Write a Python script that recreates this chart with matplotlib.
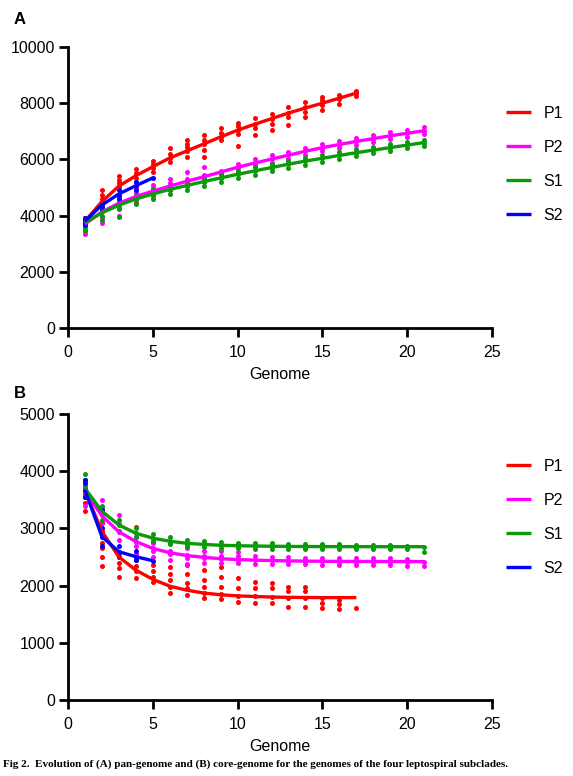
import matplotlib
matplotlib.use("Agg")
import matplotlib.pyplot as plt

# ---------------- data ----------------
series_names = ["P1", "P2", "S1", "S2"]
series_colors = ["#ff0000", "#ff00ff", "#0a9a0a", "#0000ff"]

# Pan-genome fitted curves (value at genome count 1..n)
pan_p1_fit = [3800, 4500, 5050, 5420, 5740, 6050, 6300, 6550, 6800, 7040, 7250, 7450, 7650, 7830, 8000, 8180, 8360]
pan_p2_fit = [3700, 4130, 4440, 4680, 4870, 5050, 5220, 5380, 5550, 5720, 5870, 6010, 6150, 6290, 6420, 6530, 6640, 6740, 6840, 6930, 7020]
pan_s1_fit = [3750, 4100, 4370, 4590, 4770, 4930, 5070, 5210, 5340, 5470, 5590, 5710, 5830, 5940, 6040, 6140, 6240, 6330, 6420, 6510, 6600]
pan_s2_fit = [3800, 4380, 4770, 5065, 5340]

# Pan-genome sample points (per genome count)
pan_p1_pts = [[3500, 3650, 3750, 3850, 3900], [4300, 4450, 4600, 4750, 4900], [4700, 5030, 5150, 5280, 5400],
              [5210, 5350, 5500, 5650], [5560, 5700, 5850, 5930], [5920, 6050, 6200, 6400],
              [6100, 6300, 6450, 6550, 6690], [6100, 6350, 6550, 6700, 6870], [6690, 6800, 6950, 7120],
              [6480, 6900, 7050, 7200, 7300], [6870, 7100, 7250, 7470], [7050, 7250, 7420, 7600],
              [7220, 7500, 7650, 7870], [7510, 7700, 7850, 8050], [7760, 7950, 8100, 8230],
              [7970, 8150, 8290], [8250, 8350, 8450]]
pan_p2_pts = [[3350, 3500, 3650, 3800], [3750, 3950, 4150, 4300], [4000, 4300, 4450, 4600],
              [4450, 4650, 4800, 4950], [4700, 4850, 5000, 5100], [4900, 5030, 5150, 5300],
              [5050, 5180, 5300, 5560], [5200, 5320, 5450, 5740], [5350, 5480, 5600],
              [5550, 5700, 5850], [5750, 5870, 6000], [5880, 6010, 6140], [6020, 6150, 6280],
              [6160, 6290, 6420], [6290, 6420, 6550], [6400, 6530, 6660], [6510, 6640, 6770],
              [6620, 6740, 6870], [6720, 6840, 6960], [6810, 6930, 7060], [6900, 7020, 7150]]
pan_s1_pts = [[3450, 3600, 3750, 3900], [3850, 4000, 4150, 4300], [3960, 4250, 4400, 4500],
              [4410, 4550, 4650, 4750], [4600, 4750, 4850, 4950], [4780, 4920, 5050],
              [4900, 5060, 5200], [5060, 5200, 5340], [5200, 5340, 5470], [5330, 5470, 5600],
              [5460, 5590, 5720], [5580, 5710, 5840], [5700, 5830, 5950], [5810, 5940, 6060],
              [5910, 6040, 6160], [6020, 6140, 6260], [6120, 6240, 6360], [6210, 6330, 6450],
              [6300, 6420, 6540], [6400, 6510, 6620], [6480, 6600, 6700]]
pan_s2_pts = [[3650, 3750, 3850, 3900], [4200, 4350, 4450], [4600, 4750, 4900], [4900, 5050, 5200], [5340]]

# Core-genome fitted curves
core_p1_fit = [3650, 2950, 2500, 2270, 2110, 1990, 1920, 1870, 1840, 1820, 1810, 1800, 1795, 1792, 1790, 1790, 1790]
core_p2_fit = [3650, 3220, 2940, 2770, 2650, 2575, 2525, 2495, 2470, 2455, 2445, 2437, 2432, 2428, 2425, 2423, 2422, 2421, 2420, 2420, 2420]
core_s1_fit = [3700, 3300, 3060, 2915, 2830, 2775, 2740, 2720, 2705, 2697, 2692, 2688, 2685, 2683, 2682, 2681, 2681, 2680, 2680, 2680, 2680]
core_s2_fit = [3670, 2855, 2593, 2505, 2435]

# Core-genome sample points
core_p1_pts = [[3300, 3450, 3600, 3750, 3850], [2350, 2500, 2650, 2750, 2950, 3100], [2150, 2300, 2400, 2500, 2570],
               [2130, 2250, 2350, 2450, 3020], [2070, 2150, 2250, 2360], [1870, 1980, 2100, 2200, 2330],
               [1835, 1950, 2050, 2200, 2360], [1780, 1870, 1980, 2100, 2270], [1760, 1850, 1980, 2150, 2330],
               [1710, 1820, 1950, 2130], [1690, 1810, 1950, 2070], [1690, 1800, 1950, 2050],
               [1630, 1790, 1900, 1980], [1630, 1790, 1900, 1975], [1600, 1700, 1780], [1590, 1680, 1750], [1610]]
core_p2_pts = [[3400, 3550, 3650, 3750], [3100, 3230, 3350, 3500], [2800, 2940, 3080, 3230],
               [2560, 2700, 2770, 2855], [2500, 2600, 2650, 2740], [2450, 2550, 2600, 2740],
               [2380, 2480, 2530, 2650], [2400, 2480, 2520, 2600], [2400, 2460, 2520, 2600],
               [2390, 2450, 2510, 2590], [2380, 2440, 2510], [2380, 2440, 2500], [2370, 2430, 2500],
               [2370, 2430, 2490], [2360, 2425, 2490], [2360, 2420, 2490], [2360, 2420, 2480],
               [2360, 2420, 2480], [2360, 2420, 2480], [2350, 2420, 2470], [2340, 2420]]
core_s1_pts = [[3550, 3700, 3850, 3950], [3150, 3300, 3400], [2950, 3060, 3150], [2850, 2915, 3000],
               [2780, 2830, 2900], [2720, 2780, 2850], [2690, 2740, 2800], [2670, 2720, 2780],
               [2660, 2705, 2760], [2650, 2700, 2750], [2640, 2690, 2750], [2640, 2690, 2740],
               [2640, 2685, 2730], [2640, 2683, 2720], [2640, 2682, 2720], [2640, 2681, 2720],
               [2640, 2680, 2710], [2640, 2680, 2710], [2640, 2680, 2710], [2640, 2680, 2700], [2580, 2680]]
core_s2_pts = [[3550, 3670, 3800, 3850], [2700, 2855, 3000, 3320], [2500, 2593, 2700], [2450, 2505, 2600], [2435]]

x_ticks = [0, 5, 10, 15, 20, 25]
pan_y_ticks = [0, 2000, 4000, 6000, 8000, 10000]
core_y_ticks = [0, 1000, 2000, 3000, 4000, 5000]
x_label = "Genome"
caption = "Fig 2.  Evolution of (A) pan-genome and (B) core-genome for the genomes of the four leptospiral subclades."

# ---------------- drawing ----------------
plt.rcParams['font.family'] = ['Liberation Sans', 'DejaVu Sans']
W, H = 573, 776
fig = plt.figure(figsize=(W / 100, H / 100), dpi=100)
FS = 11.5


def panel(rect, fits, pts, yticks, ylim, leg_top_px):
    ax = fig.add_axes(rect)
    handles = []
    for name, color, fit, p in zip(series_names, series_colors, fits, pts):
        xs, ys = [], []
        for i, vals in enumerate(p):
            xs += [i + 1] * len(vals)
            ys += vals
        ax.scatter(xs, ys, s=13, color=color, linewidths=0, zorder=2)
        h, = ax.plot(range(1, len(fit) + 1), fit, color=color, lw=2.4, label=name, zorder=3,
                     solid_capstyle='butt')
        handles.append(h)
    ax.set_xlim(0, 25)
    ax.set_ylim(*ylim)
    ax.set_xticks(x_ticks)
    ax.set_yticks(yticks)
    for s in ['top', 'right']:
        ax.spines[s].set_visible(False)
    for s in ['left', 'bottom']:
        ax.spines[s].set_linewidth(2.0)
        ax.spines[s].set_clip_on(False)
    ax.tick_params(width=2.0, length=6.5, labelsize=FS, direction='out')
    ax.tick_params(axis='y', pad=3)
    ax.tick_params(axis='x', pad=6)
    ax.set_xlabel(x_label, fontsize=FS, labelpad=5)
    ax.margins(0)
    leg = fig.legend(handles=handles, loc='upper left',
                     bbox_to_anchor=(506 / W, 1 - leg_top_px / H), bbox_transform=fig.transFigure,
                     frameon=False, fontsize=FS, handlelength=1.56, handletextpad=0.8,
                     labelspacing=1.18, borderaxespad=0, borderpad=0)
    for l in leg.get_lines():
        l.set_linewidth(2.4)
    return ax


axA = panel([68 / W, 1 - 328 / H, 424 / W, 281 / H],
            [pan_p1_fit, pan_p2_fit, pan_s1_fit, pan_s2_fit],
            [pan_p1_pts, pan_p2_pts, pan_s1_pts, pan_s2_pts], pan_y_ticks, (0, 10000), 106)
axB = panel([68 / W, 1 - 700 / H, 424 / W, 286 / H],
            [core_p1_fit, core_p2_fit, core_s1_fit, core_s2_fit],
            [core_p1_pts, core_p2_pts, core_s1_pts, core_s2_pts], core_y_ticks, (0, 5000), 459)

fig.text(14 / W, 1 - 20 / H, "A", fontsize=12, fontweight='bold', va='center', ha='left')
fig.text(14 / W, 1 - 393 / H, "B", fontsize=12, fontweight='bold', va='center', ha='left')
fig.text(3 / W, 1 - 764 / H, caption, fontsize=8.0, fontweight='bold', va='center', ha='left',
         family=['Liberation Serif', 'DejaVu Serif'])

fig.savefig("out.png", dpi=100)
